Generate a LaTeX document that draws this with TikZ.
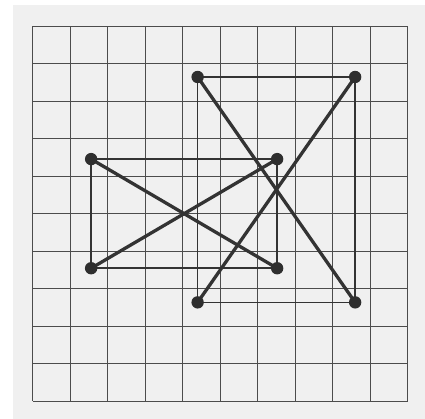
\documentclass[tikz,border=0pt]{standalone}
\usepackage{tikz}
\usetikzlibrary{positioning,backgrounds}

\begin{document}
\begin{tikzpicture}[
  paper/.style={fill=black!6},
  gridline/.style={draw=black!70, line width=0.7pt},
  dot/.style={circle, fill=black!82, inner sep=0pt, minimum size=3.3mm},
  side/.style={draw=black!80, line width=1.3pt},
  cross/.style={draw=black!80, line width=2.5pt}
]
\useasboundingbox (-0.87,-0.48) rectangle (10.463,10.693);

% large rectangle
\node[dot] (tl) at (4.4,8.64) {};
\node[dot] (tr) at (8.6,8.64) {};
\node[dot] (bl) at (4.4,2.63) {};
\node[dot] (br) at (8.6,2.63) {};
% small rectangle
\node[dot] (stl) at (1.56,6.45) {};
\node[dot] (str) at (6.52,6.45) {};
\node[dot] (sbl) at (1.56,3.54) {};
\node[dot] (sbr) at (6.52,3.54) {};

\begin{scope}[on background layer]
\fill[paper] (-0.52,-0.48) rectangle (10.463,10.56);
\draw[gridline] (0,0) grid (10,10);

\draw[side] (tl.center) -- (tr.center);
\draw[side] (tr.center) -- (br.center);
\draw[side] (br.center) -- (bl.center);
\draw[side] (bl.center) -- (tl.center);
\draw[side] (stl.center) -- (str.center);
\draw[side] (str.center) -- (sbr.center);
\draw[side] (sbr.center) -- (sbl.center);
\draw[side] (sbl.center) -- (stl.center);

\draw[cross] (tl.center) -- (br.center);
\draw[cross] (bl.center) -- (tr.center);
\draw[cross] (stl.center) -- (sbr.center);
\draw[cross] (sbl.center) -- (str.center);
\end{scope}
\end{tikzpicture}
\end{document}
